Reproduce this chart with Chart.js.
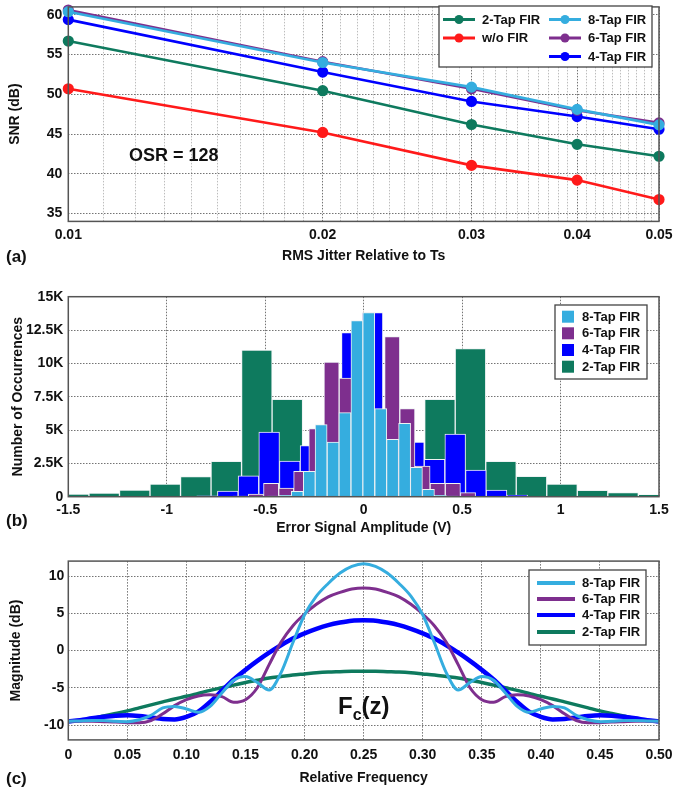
<!DOCTYPE html>
<html>
<head>
<meta charset="utf-8">
<script src="https://cdn.jsdelivr.net/npm/chart.js@4.4.1/dist/chart.umd.min.js"></script>
<style>
  body { margin: 0; background: #fff; }
  #wrap { position: relative; width: 673px; height: 793px; font-family: "Liberation Sans", Arial, Helvetica, sans-serif; color: #111; }
  .panel { position: absolute; left: 0; width: 673px; }
  .tag { position: absolute; font-weight: bold; white-space: nowrap; }
</style>
</head>
<body>
<div id="wrap">
  <div class="panel" style="top:0;height:270px"><canvas id="snrChart"></canvas></div>
  <div class="panel" style="top:270px;height:270px"><canvas id="histChart"></canvas></div>
  <div class="panel" style="top:540px;height:253px"><canvas id="freqChart"></canvas></div>

  <div class="tag" style="left:6px;top:247px;font-size:17px;line-height:20px">(a)</div>
  <div class="tag" style="left:6px;top:511px;font-size:17px;line-height:20px">(b)</div>
  <div class="tag" style="left:6px;top:769px;font-size:17px;line-height:20px">(c)</div>
  <div class="tag" style="left:129px;top:145px;font-size:18px;line-height:20px">OSR = 128</div>
  <div class="tag" style="left:338px;top:694px;font-size:24px;line-height:24px">F<span style="font-size:16px;position:relative;top:6px">c</span>(z)</div>
</div>

<script>
// ---------- (a) SNR vs RMS jitter ----------
const jitter = [0.01, 0.02, 0.03, 0.04, 0.05];
const snr2Tap = [56.7, 50.45, 46.2, 43.7, 42.2];
const snrNoFir = [50.7, 45.2, 41.05, 39.2, 36.75];
const snr8Tap = [60.4, 54.0, 50.9, 48.1, 46.15];
const snr6Tap = [60.6, 54.1, 50.7, 48.0, 46.4];
const snr4Tap = [59.4, 52.8, 49.1, 47.2, 45.6];
const jitterTicks = [0.01, 0.02, 0.03, 0.04, 0.05];
const snrTicks = [35, 40, 45, 50, 55, 60];

// ---------- (b) error histograms (bin centres in V, counts) ----------
const bins8Tap = [-0.458, -0.397, -0.337, -0.276, -0.216, -0.155, -0.095, -0.034, 0.026, 0.087, 0.147, 0.208, 0.268, 0.329, 0.389, 0.45];
const count8Tap = [50, 100, 400, 1900, 5400, 4100, 6300, 13200, 13800, 6600, 4300, 5500, 2200, 550, 100, 50];
const bins6Tap = [-0.624, -0.547, -0.47, -0.393, -0.317, -0.24, -0.163, -0.086, -0.009, 0.068, 0.145, 0.222, 0.299, 0.376, 0.453, 0.53];
const count6Tap = [50, 200, 1000, 650, 1900, 5100, 10100, 8900, 11000, 6400, 12000, 6600, 2300, 1000, 1000, 300];
const bins4Tap = [-0.795, -0.69, -0.585, -0.48, -0.375, -0.27, -0.165, -0.06, 0.045, 0.15, 0.255, 0.36, 0.465, 0.57, 0.675, 0.78];
const count4Tap = [70, 420, 1560, 4850, 2670, 3840, 4500, 12300, 13800, 5500, 4100, 2800, 4700, 2000, 500, 130];
const bins2Tap = [-1.4725, -1.3175, -1.1625, -1.0075, -0.8525, -0.6975, -0.5425, -0.3875, -0.2325, -0.0775,
                  0.0775, 0.2325, 0.3875, 0.5425, 0.6975, 0.8525, 1.0075, 1.1625, 1.3175, 1.4725];
const count2Tap = [200, 280, 500, 950, 1500, 2650, 11000, 7300, 1500, 500,
                   500, 1500, 7300, 11100, 2650, 1530, 950, 470, 300, 150];
const errTicks = [-1.5, -1, -0.5, 0, 0.5, 1, 1.5];
const countTicks = [0, 2500, 5000, 7500, 10000, 12500, 15000];
const countTickLabels = ['0', '2.5K', '5K', '7.5K', '10K', '12.5K', '15K'];

// ---------- (c) magnitude responses ----------
const freq = [0, 0.01, 0.02, 0.03, 0.04, 0.05, 0.06, 0.07, 0.08, 0.09, 0.10, 0.11, 0.12, 0.13, 0.14, 0.15, 0.16,
              0.17, 0.18, 0.19, 0.20, 0.21, 0.22, 0.23, 0.24, 0.25, 0.26, 0.27, 0.28, 0.29, 0.30, 0.31, 0.32, 0.33,
              0.34, 0.35, 0.36, 0.37, 0.38, 0.39, 0.40, 0.41, 0.42, 0.43, 0.44, 0.45, 0.46, 0.47, 0.48, 0.49, 0.50];
const mag8Tap = [-9.5, -9.45, -9.4, -9.4, -9.5, -9.55, -9.3, -8.7, -7.7, -7.5, -7.85, -8.3, -7.5, -5.7, -4.0, -3.5, -4.3,
                 -5.3, -3.0, 1.0, 4.8, 7.3, 9.0, 10.4, 11.3, 11.65, 11.3, 10.4, 9.0, 7.3, 4.8, 1.0, -3.0, -5.3,
                 -4.3, -3.5, -4.0, -5.7, -7.5, -8.3, -7.85, -7.5, -7.7, -8.7, -9.3, -9.55, -9.5, -9.4, -9.4, -9.45, -9.5];
const mag6Tap = [-9.5, -9.5, -9.5, -9.55, -9.6, -9.7, -9.7, -9.4, -8.5, -7.4, -6.6, -6.1, -5.95, -6.2, -6.95, -6.6, -5.0,
                 -1.9, 1.1, 3.3, 4.9, 6.2, 7.2, 7.8, 8.25, 8.4, 8.25, 7.8, 7.2, 6.2, 4.9, 3.3, 1.1, -1.9,
                 -5.0, -6.6, -6.95, -6.2, -5.95, -6.1, -6.6, -7.4, -8.5, -9.4, -9.7, -9.7, -9.6, -9.55, -9.5, -9.5, -9.5];
const mag4Tap = [-9.5, -9.35, -9.1, -8.9, -8.75, -8.7, -8.8, -9.0, -9.2, -9.25, -8.9, -8.2, -6.9, -5.4, -3.9, -2.6, -1.4,
                 -0.3, 0.7, 1.6, 2.3, 2.9, 3.4, 3.75, 4.0, 4.05, 4.0, 3.75, 3.4, 2.9, 2.3, 1.6, 0.7, -0.3,
                 -1.4, -2.6, -3.9, -5.4, -6.9, -8.2, -8.9, -9.25, -9.2, -9.0, -8.8, -8.7, -8.75, -8.9, -9.1, -9.35, -9.5];
const mag2Tap = [-9.55, -9.4, -9.15, -8.8, -8.45, -8.1, -7.7, -7.3, -6.9, -6.5, -6.15, -5.75, -5.35, -5.0, -4.65, -4.3, -4.0,
                 -3.7, -3.5, -3.3, -3.15, -3.0, -2.9, -2.85, -2.8, -2.8, -2.8, -2.85, -2.9, -3.0, -3.15, -3.3, -3.5, -3.7,
                 -4.0, -4.3, -4.65, -5.0, -5.35, -5.75, -6.15, -6.5, -6.9, -7.3, -7.7, -8.1, -8.45, -8.8, -9.15, -9.4, -9.55];
const freqTicks = [0, 0.05, 0.10, 0.15, 0.20, 0.25, 0.30, 0.35, 0.40, 0.45, 0.50];
const freqTickLabels = ['0', '0.05', '0.10', '0.15', '0.20', '0.25', '0.30', '0.35', '0.40', '0.45', '0.50'];
const magTicks = [-10, -5, 0, 5, 10];

// colours
const GREEN = '#0e7a5e';
const RED = '#ff1a1a';
const LIGHTBLUE = '#35addf';
const PURPLE = '#7e2f8e';
const BLUE = '#0000ff';
const GRID = 'rgba(70,70,70,0.75)';
const GRID_MINOR = 'rgba(90,90,90,0.4)';

Chart.defaults.font.family = '"Liberation Sans", Arial, Helvetica, sans-serif';
Chart.defaults.color = '#111';

const tickFont = { size: 14, weight: 'bold' };
const titleFont = { size: 14, weight: 'bold' };

function fixX(h) {
  return s => { s.height = h; s.paddingLeft = 0; s.paddingRight = 0; };
}
function fixY(w) {
  return s => { s.width = w; s.paddingTop = 0; s.paddingBottom = 0; };
}
function setTicks(vals) {
  return s => { s.ticks = vals.map(v => ({ value: v })); };
}
function labelFrom(vals, labels) {
  return v => {
    const i = vals.findIndex(t => Math.abs(t - v) < 1e-9);
    return i < 0 ? '' : labels[i];
  };
}

// frame around the plot + boxed legend, drawn on top of the data
const boxLegend = {
  id: 'boxLegend',
  afterDatasetsDraw(chart, args, opts) {
    const { ctx, chartArea: a } = chart;
    ctx.save();
    ctx.strokeStyle = '#555';
    ctx.lineWidth = 1.5;
    ctx.strokeRect(a.left, a.top, a.right - a.left, a.bottom - a.top);

    ctx.fillStyle = '#fff';
    ctx.fillRect(opts.x, opts.y, opts.w, opts.h);
    ctx.strokeStyle = '#444';
    ctx.lineWidth = 1.3;
    ctx.strokeRect(opts.x, opts.y, opts.w, opts.h);

    ctx.font = 'bold 13px "Liberation Sans", Arial, sans-serif';
    ctx.textBaseline = 'middle';
    opts.items.forEach(it => {
      const ds = chart.data.datasets[it.ds];
      const color = ds.borderColor && opts.kind !== 'box' ? ds.borderColor : ds.backgroundColor;
      if (opts.kind === 'box') {
        ctx.fillStyle = color;
        ctx.fillRect(it.x, it.y - 6, 12, 12);
      } else {
        ctx.strokeStyle = color;
        ctx.lineWidth = opts.lineWidth;
        ctx.beginPath();
        ctx.moveTo(it.x, it.y);
        ctx.lineTo(it.x + opts.len, it.y);
        ctx.stroke();
        if (opts.kind === 'marker') {
          ctx.fillStyle = color;
          ctx.beginPath();
          ctx.arc(it.x + opts.len / 2, it.y, 4.5, 0, Math.PI * 2);
          ctx.fill();
        }
      }
      ctx.fillStyle = '#111';
      ctx.fillText(ds.label, it.x + opts.textGap, it.y + 0.5);
    });
    ctx.restore();
  }
};

// ---------- chart (a) ----------
function snrSet(label, values, color, order) {
  return {
    label,
    data: jitter.map((x, i) => ({ x, y: values[i] })),
    borderColor: color,
    backgroundColor: color,
    pointBackgroundColor: color,
    pointBorderColor: color,
    borderWidth: 2.6,
    pointRadius: 4.3,
    tension: 0,
    clip: false,
    order
  };
}

const jitterGrid = [];
for (let i = 10; i <= 50; i++) jitterGrid.push(i / 1000);

new Chart(document.getElementById('snrChart'), {
  type: 'line',
  data: {
    datasets: [
      snrSet('2-Tap FIR', snr2Tap, GREEN, 4),
      snrSet('w/o FIR', snrNoFir, RED, 3),
      snrSet('8-Tap FIR', snr8Tap, LIGHTBLUE, 0),
      snrSet('6-Tap FIR', snr6Tap, PURPLE, 1),
      snrSet('4-Tap FIR', snr4Tap, BLUE, 2)
    ]
  },
  options: {
    animation: false,
    responsive: true,
    maintainAspectRatio: false,
    layout: { padding: { top: 2, right: 14, left: 0, bottom: 0 } },
    plugins: {
      legend: { display: false },
      tooltip: { enabled: false },
      boxLegend: {
        kind: 'marker', x: 439, y: 6, w: 213, h: 61, len: 32, textGap: 39, lineWidth: 3,
        items: [
          { ds: 0, x: 443, y: 19.5 }, { ds: 1, x: 443, y: 38 },
          { ds: 2, x: 549, y: 19.5 }, { ds: 3, x: 549, y: 38 }, { ds: 4, x: 549, y: 56.5 }
        ]
      }
    },
    scales: {
      x: {
        type: 'logarithmic', min: 0.01, max: 0.05,
        afterBuildTicks: setTicks(jitterGrid),
        afterFit: fixX(48.6),
        ticks: {
          autoSkip: false, maxRotation: 0, padding: 5, font: tickFont,
          callback: labelFrom(jitterTicks, jitterTicks.map(v => v.toFixed(2)))
        },
        grid: {
          drawTicks: false,
          color: c => jitterTicks.some(t => Math.abs(t - c.tick.value) < 1e-9) ? GRID : GRID_MINOR
        },
        border: { display: false, dash: [1.5, 1.5] },
        title: { display: true, text: 'RMS Jitter Relative to Ts', font: titleFont, padding: { top: 0, bottom: 5 } }
      },
      y: {
        min: 34, max: 61,
        afterBuildTicks: setTicks(snrTicks),
        afterFit: fixY(68.3),
        ticks: { padding: 6, font: tickFont },
        grid: { drawTicks: false, color: GRID },
        border: { display: false, dash: [1.5, 1.5] },
        title: { display: true, text: 'SNR (dB)', font: titleFont, padding: { top: 7, bottom: 0 } }
      }
    }
  },
  plugins: [boxLegend]
});

// ---------- chart (b) ----------
const histBins = [bins8Tap, bins6Tap, bins4Tap, bins2Tap];

function histSet(label, centers, counts, color) {
  return {
    label,
    data: centers.map((x, i) => ({ x, y: counts[i] })),
    backgroundColor: color,
    borderColor: '#eef2f3',
    borderWidth: 1,
    grouped: false,
    clip: 0
  };
}

const histChart = new Chart(document.getElementById('histChart'), {
  type: 'bar',
  data: {
    datasets: [
      histSet('8-Tap FIR', bins8Tap, count8Tap, LIGHTBLUE),
      histSet('6-Tap FIR', bins6Tap, count6Tap, PURPLE),
      histSet('4-Tap FIR', bins4Tap, count4Tap, BLUE),
      histSet('2-Tap FIR', bins2Tap, count2Tap, GREEN)
    ]
  },
  options: {
    animation: false,
    responsive: true,
    maintainAspectRatio: false,
    layout: { padding: { top: 26.7, right: 14, left: 0, bottom: 0 } },
    plugins: {
      legend: { display: false },
      tooltip: { enabled: false },
      boxLegend: {
        kind: 'box', x: 555, y: 35, w: 92, h: 74, textGap: 20,
        items: [
          { ds: 0, x: 562, y: 46.7 }, { ds: 1, x: 562, y: 63.3 },
          { ds: 2, x: 562, y: 80 }, { ds: 3, x: 562, y: 96.7 }
        ]
      }
    },
    scales: {
      x: {
        type: 'linear', min: -1.5, max: 1.5, offset: false,
        afterBuildTicks: setTicks(errTicks),
        afterFit: fixX(43.3),
        ticks: { autoSkip: false, maxRotation: 0, padding: 5, font: tickFont, callback: v => String(v) },
        grid: { drawTicks: false, offset: false, color: GRID },
        border: { display: false, dash: [1.5, 1.5] },
        title: { display: true, text: 'Error Signal Amplitude (V)', font: titleFont, padding: { top: 0, bottom: 3.6 } }
      },
      y: {
        min: 0, max: 15000,
        afterBuildTicks: setTicks(countTicks),
        afterFit: fixY(68.3),
        ticks: { padding: 5, font: tickFont, callback: labelFrom(countTicks, countTickLabels) },
        grid: { drawTicks: false, color: GRID },
        border: { display: false, dash: [1.5, 1.5] },
        title: { display: true, text: 'Number of Occurrences', font: titleFont, padding: { top: 9.8, bottom: 0 } }
      }
    }
  },
  plugins: [boxLegend]
});

// bar widths follow each histogram's own bin width on the x scale
const xs = histChart.scales.x;
const pxPerUnit = xs.getPixelForValue(1) - xs.getPixelForValue(0);
histChart.data.datasets.forEach((ds, i) => {
  const c = histBins[i];
  ds.barThickness = (c[1] - c[0]) * pxPerUnit;
});
histChart.update();

// ---------- chart (c) ----------
function magSet(label, values, color, width, order) {
  return {
    label,
    data: freq.map((x, i) => ({ x, y: values[i] })),
    borderColor: color,
    backgroundColor: color,
    borderWidth: width,
    pointRadius: 0,
    cubicInterpolationMode: 'monotone',
    order
  };
}

new Chart(document.getElementById('freqChart'), {
  type: 'line',
  data: {
    datasets: [
      magSet('8-Tap FIR', mag8Tap, LIGHTBLUE, 3, 0),
      magSet('6-Tap FIR', mag6Tap, PURPLE, 3, 1),
      magSet('4-Tap FIR', mag4Tap, BLUE, 4.5, 2),
      magSet('2-Tap FIR', mag2Tap, GREEN, 3.5, 3)
    ]
  },
  options: {
    animation: false,
    responsive: true,
    maintainAspectRatio: false,
    layout: { padding: { top: 21.1, right: 14, left: 0, bottom: 0 } },
    plugins: {
      legend: { display: false },
      tooltip: { enabled: false },
      boxLegend: {
        kind: 'line', x: 529, y: 30, w: 117, h: 75, len: 38, textGap: 45, lineWidth: 4,
        items: [
          { ds: 0, x: 537, y: 43 }, { ds: 1, x: 537, y: 59 },
          { ds: 2, x: 537, y: 75 }, { ds: 3, x: 537, y: 92 }
        ]
      }
    },
    scales: {
      x: {
        type: 'linear', min: 0, max: 0.5,
        afterBuildTicks: setTicks(freqTicks),
        afterFit: fixX(53.1),
        ticks: { autoSkip: false, maxRotation: 0, padding: 6.7, font: tickFont, callback: labelFrom(freqTicks, freqTickLabels) },
        grid: { drawTicks: false, color: GRID },
        border: { display: false, dash: [1.5, 1.5] },
        title: { display: true, text: 'Relative Frequency', font: titleFont, padding: { top: 0, bottom: 6.6 } }
      },
      y: {
        min: -12, max: 12,
        afterBuildTicks: setTicks(magTicks),
        afterFit: fixY(68.3),
        ticks: { padding: 4, font: tickFont },
        grid: { drawTicks: false, color: GRID },
        border: { display: false, dash: [1.5, 1.5] },
        title: { display: true, text: 'Magnitude (dB)', font: titleFont, padding: { top: 7.6, bottom: 0 } }
      }
    }
  },
  plugins: [boxLegend]
});
</script>
</body>
</html>
